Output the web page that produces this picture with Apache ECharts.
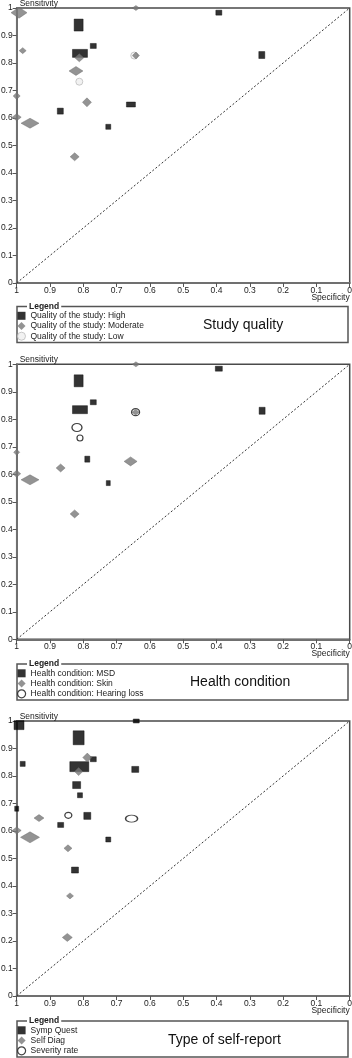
<!DOCTYPE html>
<html>
<head>
<meta charset="utf-8">
<script src="https://cdn.jsdelivr.net/npm/echarts@6/dist/echarts.min.js"></script>
<style>
  html, body { margin: 0; padding: 0; background: #fff; }
  #chart { width: 352px; height: 1058px; }
</style>
</head>
<body>
<div id="chart"></div>
<script>
// panel titles + legend labels
const panelTitles = ['Study quality', 'Health condition', 'Type of self-report']
const qualityNames = ['Quality of the study: High', 'Quality of the study: Moderate', 'Quality of the study: Low']
const conditionNames = ['Health condition: MSD', 'Health condition: Skin', 'Health condition: Hearing loss']
const reportNames = ['Symp Quest', 'Self Diag', 'Severity rate']

const tickLabels = ['0', '0.1', '0.2', '0.3', '0.4', '0.5', '0.6', '0.7', '0.8', '0.9', '1']
const chanceLine = [[1, 0], [0, 1]]

// points are [specificity, sensitivity]
const qualityHigh = [[0.393, 0.983], [0.814, 0.938], [0.77, 0.862], [0.81, 0.835], [0.264, 0.829], [0.657, 0.649], [0.869, 0.625], [0.725, 0.568]]
const qualityModerate = [[0.993, 0.983], [0.642, 1.0], [0.982, 0.845], [0.812, 0.819], [0.642, 0.827], [0.822, 0.771], [1.0, 0.68], [0.789, 0.657], [1.0, 0.603], [0.96, 0.581], [0.826, 0.459]]
const qualityLow = [[0.647, 0.827], [0.812, 0.732]]

const conditionMSD = [[0.393, 0.984], [0.814, 0.94], [0.77, 0.862], [0.81, 0.835], [0.263, 0.831], [0.788, 0.655], [0.725, 0.568]]
const conditionSkin = [[0.642, 1.0], [0.643, 0.826], [1.0, 0.68], [0.658, 0.647], [0.868, 0.623], [1.0, 0.602], [0.96, 0.58], [0.826, 0.456]]
const conditionHearing = [[0.643, 0.826], [0.819, 0.77], [0.81, 0.732]]

const reportSympQuest = [[0.993, 0.985], [0.641, 1.0], [0.814, 0.939], [0.77, 0.861], [0.982, 0.844], [0.812, 0.834], [0.644, 0.824], [0.82, 0.767], [0.81, 0.73], [1.0, 0.681], [0.788, 0.655], [0.868, 0.622], [0.725, 0.569], [0.825, 0.458]]
const reportSelfDiag = [[0.788, 0.867], [0.814, 0.816], [0.933, 0.647], [1.0, 0.602], [0.96, 0.577], [0.846, 0.537], [0.84, 0.364], [0.848, 0.213]]
const reportSeverity = [[0.845, 0.657], [0.655, 0.645]]

// marker box per study (weight of the study), [w, h]
const qualityHighDims = [[6, 5], [9, 12], [6, 5], [15, 8], [6, 7], [9, 5], [6, 6], [5, 5]]
const qualityModerateDims = [[16, 11], [7, 5], [7, 6], [9, 8], [7, 7], [14, 9], [7, 7], [9, 9], [9, 7], [18, 10], [9, 8]]
const qualityLowDims = [[7, 7], [7, 7]]

const conditionMSDDims = [[7, 5], [9, 12], [6, 5], [15, 8], [6, 7], [5, 6], [4, 5]]
const conditionSkinDims = [[7, 5], [7, 6], [6, 6], [13, 9], [9, 8], [8, 7], [18, 10], [9, 8]]
const conditionHearingDims = [[8, 7], [10, 8], [6, 6]]

const reportSympQuestDims = [[10, 9], [6, 4], [11, 14], [6, 5], [5, 5], [19, 10], [7, 6], [8, 7], [5, 5], [4, 5], [7, 7], [6, 5], [5, 5], [7, 6]]
const reportSelfDiagDims = [[9, 9], [8, 8], [10, 7], [9, 7], [19, 11], [8, 7], [7, 6], [10, 8]]
const reportSeverityDims = [[7, 6], [12, 7]]

const panels = [
  { names: qualityNames, groups: [qualityHigh, qualityModerate, qualityLow], dims: [qualityHighDims, qualityModerateDims, qualityLowDims] },
  { names: conditionNames, groups: [conditionMSD, conditionSkin, conditionHearing], dims: [conditionMSDDims, conditionSkinDims, conditionHearingDims] },
  { names: reportNames, groups: [reportSympQuest, reportSelfDiag, reportSeverity], dims: [reportSympQuestDims, reportSelfDiagDims, reportSeverityDims] }
]

const font = '"Liberation Sans", Arial, sans-serif'
const gridTops = [8, 364.3, 721]
const boxTops = [306.5, 664, 1021]
const titlePos = [[203, 318], [190, 675], [168, 1033]]

const icons = ['rect', 'diamond', 'circle']
const blackStyle = { color: '#000', borderColor: '#000', borderWidth: 0.5 }
const greyStyle = { color: '#787878', borderColor: '#666', borderWidth: 0.5 }
const lightStyle = { color: '#efefef', borderColor: '#bdbdbd', borderWidth: 1 }
const openStyle = { color: '#fff', borderColor: '#111', borderWidth: 1.2 }

const chart = echarts.init(document.getElementById('chart'))

const grid = [], xAxis = [], yAxis = [], series = [], legend = [], title = [], graphic = []

panels.forEach((p, k) => {
  grid.push({
    left: 16.7, top: gridTops[k], width: 333, height: 275,
    show: true, borderColor: '#4a4a4a', borderWidth: 1.5,
    outerBoundsMode: 'none'
  })

  xAxis.push({
    gridIndex: k, type: 'value', min: 0, max: 1, interval: 0.1, inverse: true,
    name: 'Specificity', nameLocation: 'start', nameGap: 0, nameMoveOverlap: false,
    nameTextStyle: { align: 'right', verticalAlign: 'top', padding: [10, 0, 0, 0], fontSize: 8.5, color: '#222', fontFamily: font },
    axisLine: { onZero: false, lineStyle: { color: '#707070', width: 2 } },
    axisTick: { length: 4, lineStyle: { color: '#555' } },
    axisLabel: { margin: 3, fontSize: 8.5, color: '#222', fontFamily: font, formatter: v => tickLabels[Math.round(v * 10)] },
    splitLine: { show: false }
  })

  yAxis.push({
    gridIndex: k, type: 'value', min: 0, max: 1, interval: 0.1,
    name: 'Sensitivity', nameLocation: 'end', nameGap: 0, nameMoveOverlap: false,
    nameTextStyle: { align: 'left', verticalAlign: 'bottom', padding: [0, 0, 0, 3], fontSize: 8.5, color: '#222', fontFamily: font },
    axisLine: { show: true, onZero: false, lineStyle: { color: '#707070', width: 2 } },
    axisTick: { show: true, length: 4, lineStyle: { color: '#555' } },
    axisLabel: { margin: 4, fontSize: 8.5, color: '#222', fontFamily: font, formatter: v => tickLabels[Math.round(v * 10)] },
    splitLine: { show: false }
  })

  series.push({
    type: 'line', xAxisIndex: k, yAxisIndex: k, data: chanceLine,
    symbol: 'none', silent: true,
    lineStyle: { color: '#333', width: 1, type: [2, 2] }
  })

  const styles = [blackStyle, greyStyle, k === 0 ? lightStyle : openStyle]
  // draw order: squares, circles, then diamonds on top
  ;[0, 2, 1].forEach(i => {
    const dims = p.dims[i]
    series.push({
      name: p.names[i], type: 'scatter', xAxisIndex: k, yAxisIndex: k,
      symbol: icons[i], clip: false,
      symbolSize: (val, params) => dims[params.dataIndex],
      itemStyle: styles[i],
      emphasis: { disabled: true },
      data: p.groups[i]
    })
  })

  legend.push({
    orient: 'vertical', left: 17, top: boxTops[k] + 4.8, width: 200, height: 40, padding: 0,
    itemWidth: 8, itemHeight: 8, itemGap: 1.2, selectedMode: false,
    textStyle: { fontSize: 8.5, lineHeight: 8.5, color: '#222', fontFamily: font },
    data: p.names.map((n, i) => ({
      name: n, icon: icons[i],
      itemStyle: i === 2 ? styles[i] : { color: styles[i].color, borderWidth: 0 }
    }))
  })

  title.push({
    text: panelTitles[k], left: titlePos[k][0], top: titlePos[k][1], padding: 0,
    textStyle: { fontSize: 14, fontWeight: 'normal', color: '#111', fontFamily: font }
  })

  graphic.push({
    type: 'rect', silent: true,
    shape: { x: 17, y: boxTops[k], width: 331, height: 36 },
    style: { fill: 'none', stroke: '#555', lineWidth: 1.5 }
  })
  graphic.push({
    type: 'text', silent: true, x: 27, y: boxTops[k],
    style: { text: 'Legend', fill: '#222', font: 'bold 8.5px ' + font, verticalAlign: 'middle', backgroundColor: '#fff', padding: [0, 2] }
  })
})

chart.setOption({
  animation: false,
  backgroundColor: '#fff',
  grid, xAxis, yAxis, series, legend, title, graphic
})
</script>
</body>
</html>
